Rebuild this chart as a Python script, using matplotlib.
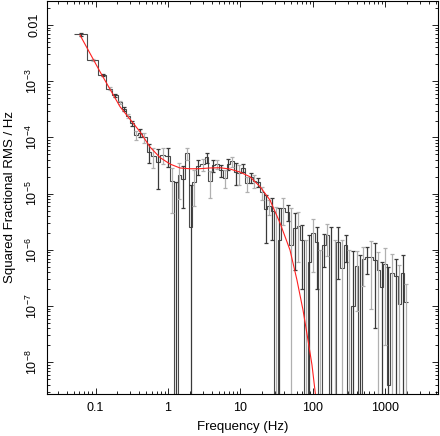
import numpy as np
import matplotlib
matplotlib.use("Agg")
import matplotlib.pyplot as plt
from matplotlib.ticker import NullFormatter

plt.rcParams['font.family'] = ['Liberation Sans', 'DejaVu Sans']
plt.rcParams['mathtext.fontset'] = 'custom'
plt.rcParams['mathtext.rm'] = 'Liberation Sans'
plt.rcParams['mathtext.default'] = 'regular'

# binned power spectrum (bin centre, power, 1-sigma error)
freq = [0.0625, 0.0938, 0.125, 0.156, 0.187, 0.218, 0.249, 0.281, 0.314, 0.357,
        0.411, 0.471, 0.547, 0.627, 0.734, 0.845, 0.991, 1.125, 1.277, 1.432,
        1.626, 1.846, 2.056, 2.305, 2.617, 3.01, 3.42, 3.79, 4.22, 4.79,
        5.33, 6.11, 6.79, 7.71, 8.59, 9.62, 10.9, 12.2, 14.0, 15.5,
        17.6, 19.6, 22.3, 24.7, 27.6, 30.9, 34.5, 38.9, 44.8, 49.8,
        56.5, 62.7, 70.5, 80.0, 88.9, 101, 112, 125, 142, 157,
        177, 199, 223, 251, 281, 317, 356, 401, 445, 494,
        551, 625, 716, 796, 887, 984, 1093, 1219, 1396, 1549,
        1726, 1918]
power = [6.8e-3, 2.4e-3, 1.3e-3, 7.4e-4, 5.6e-4, 4.2e-4, 3.2e-4, 2.4e-4, 1.8e-4, 1.1e-4,
         1.2e-4, 1.0e-4, 5.55e-5, 4.7e-5, 3.7e-5, 4.9e-5, 4.7e-5, 1.65e-5, -6e-6, 2.17e-5,
         1.83e-5, 5.2e-5, 2.6e-6, 1.6e-5, 3.05e-5, 3.3e-5, 4.4e-5, 1.67e-5, 3.2e-5, 3.4e-5,
         2.6e-5, 1.93e-5, 3.4e-5, 3.75e-5, 2.44e-5, 2.3e-5, 2.9e-5, 1.54e-5, 1.95e-5, 1.7e-5,
         1.6e-5, 1.05e-5, 5.35e-6, 6.0e-6, 4.9e-6, -2e-6, 1.5e-6, 5.6e-6, 4.7e-6, 1.2e-6,
         2.44e-6, 2.7e-6, 1.5e-6, -5e-7, 6e-7, 2.0e-6, 1.4e-6, -8e-7, 1.2e-6, 1.85e-6,
         -1e-6, -1.5e-6, 1.4e-6, 4.7e-7, 1.2e-6, -6e-7, 1e-7, 5.1e-7, -4e-7, 6.8e-7,
         7.5e-7, 7.5e-7, 6.7e-7, 4.3e-7, 2.2e-7, 5.5e-7, 4e-9, 3.9e-7, 3.4e-7, 1.1e-7,
         3.8e-7, 1.2e-7]
error = [3e-4, 1.2e-4, 7e-5, 4.5e-5, 3.5e-5, 3e-5, 2.5e-5, 2.2e-5, 2e-5, 2.0e-5,
         2.0e-5, 2.0e-5, 2.05e-5, 1.8e-5, 2.5e-5, 1.6e-5, 1.7e-5, 1.2e-5, 2.2e-5, 1.37e-5,
         1.27e-5, 1.27e-5, 1.16e-5, 1.0e-5, 9e-6, 7.5e-6, 9e-6, 8.4e-6, 7.3e-6, 6e-6,
         6e-6, 6.7e-6, 8e-6, 7.5e-6, 1.0e-5, 9e-6, 4.4e-6, 4.6e-6, 4e-6, 4.5e-6,
         2.8e-6, 2.8e-6, 4.05e-6, 1.8e-6, 3.4e-6, 7.8e-6, 4e-6, 2.8e-6, 1.5e-6, 4.3e-6,
         2.0e-6, 2.1e-6, 1.3e-6, 2e-6, 1.2e-6, 1.6e-6, 1.2e-6, 1.8e-6, 7e-7, 1.07e-6,
         3.6e-6, 3e-6, 1.1e-6, 1.0e-6, 6e-7, 1.6e-6, 8.4e-7, 4.3e-7, 1.2e-6, 4.5e-7,
         3.8e-7, 6.6e-7, 6.3e-7, 5e-7, 4e-7, 5.3e-7, 5e-7, 4.5e-7, 3.6e-7, 4.3e-7,
         4.2e-7, 1.3e-7]

# fitted model
model_freq = [0.0611, 0.1153, 0.218, 0.411, 0.565, 0.776, 1.067, 1.464, 2.01, 2.76,
              3.79, 5.21, 7.16, 9.84, 13.5, 18.6, 25.5, 35.1, 48.2, 60.1,
              72.8, 85.3, 96.9, 108, 120]
model_power = [6.64e-3, 1.48e-3, 3.52e-4, 1.26e-4, 6.74e-5, 4.39e-5, 3.36e-5, 2.86e-5, 2.77e-5, 2.78e-5,
               2.86e-5, 2.89e-5, 2.74e-5, 2.42e-5, 2.0e-5, 1.33e-5, 7.69e-6, 3.0e-6, 9.9e-7, 2.9e-7,
               8.5e-8, 2.48e-8, 8.9e-9, 2.7e-9, 8e-10]

f = np.array(freq)
p = np.array(power)
e = np.array(error)

mids = np.sqrt(f[:-1] * f[1:])
edges = np.concatenate([[f[0] ** 2 / mids[0]], mids, [f[-1] ** 2 / mids[-1]]])

floor = 1e-12
y = np.clip(p, floor, None)
lo = np.clip(p - e, floor, None)
hi = p + e

fig = plt.figure(figsize=(4.4, 4.36), dpi=100)
ax = fig.add_axes([0.1068, 0.0963, 0.8886, 0.9025])

ax.stairs(y, edges, baseline=None, color='#4a4a4a', lw=0.8)

for k, col in enumerate(['#3a3a3a', '#b0b0b0']):
    idx = np.arange(len(f))[k::2]
    ax.errorbar(f[idx], y[idx], yerr=[y[idx] - lo[idx], hi[idx] - y[idx]],
                fmt='none', ecolor=col, elinewidth=0.9, capsize=1.6, capthick=0.9)

ax.plot(model_freq, model_power, color='#ff2020', lw=0.8)

ax.set_xscale('log')
ax.set_yscale('log')
ax.set_xlim(0.02142, 5297)
ax.set_ylim(2.72e-9, 0.0273)

ax.set_xticks([0.1, 1, 10, 100, 1000], labels=['0.1', '1', '10', '100', '1000'])
ax.set_yticks([1e-2, 1e-3, 1e-4, 1e-5, 1e-6, 1e-7, 1e-8],
              labels=['0.01', '10$^{-3}$', '10$^{-4}$', '10$^{-5}$',
                      '10$^{-6}$', '10$^{-7}$', '10$^{-8}$'])
ax.xaxis.set_minor_formatter(NullFormatter())
ax.yaxis.set_minor_formatter(NullFormatter())
ax.tick_params(which='both', direction='in', top=True, right=True, width=0.6, labelsize=9)
ax.tick_params(which='major', length=4.5)
ax.tick_params(which='minor', length=2.5)
ax.tick_params(axis='x', pad=5.5)
ax.tick_params(axis='y', pad=5, labelrotation=90)
for lbl in ax.get_yticklabels():
    lbl.set_va('center')
for s in ax.spines.values():
    s.set_linewidth(0.8)

fig.text(10 / 440, 0.548, 'Squared Fractional RMS / Hz', rotation=90,
         ha='center', va='center', fontsize=9.5)
fig.text(0.551, 0.0206, 'Frequency (Hz)', ha='center', va='center', fontsize=9.5)

fig.savefig('out.png', dpi=100)
